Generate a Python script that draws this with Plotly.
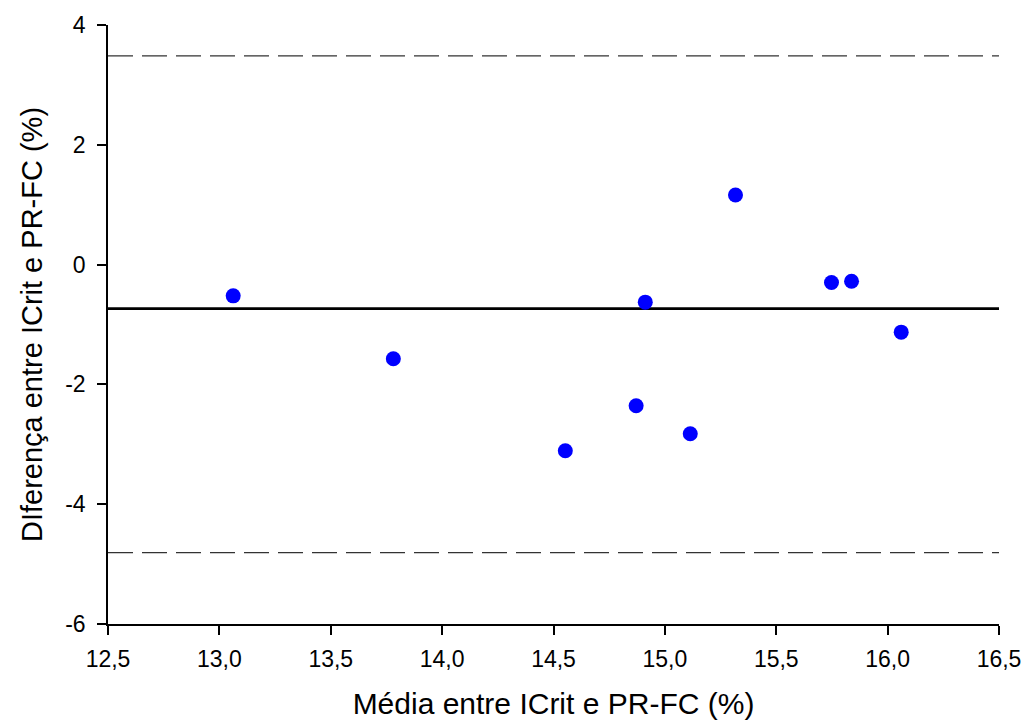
import plotly.graph_objects as go

# Data
media = [13.062, 13.781, 14.553, 14.871, 14.912, 15.114, 15.317, 15.748, 15.838, 16.061]
diferenca = [-0.522, -1.573, -3.108, -2.357, -0.627, -2.825, 1.163, -0.300, -0.277, -1.128]

bias = -0.734
lim_sup = 3.486
lim_inf = -4.81

x_range = [12.5, 16.5]
y_range = [-6, 4]

x_tickvals = [12.5, 13.0, 13.5, 14.0, 14.5, 15.0, 15.5, 16.0, 16.5]
x_ticktext = ["12,5", "13,0", "13,5", "14,0", "14,5", "15,0", "15,5", "16,0", "16,5"]
y_tickvals = [-6, -4, -2, 0, 2, 4]
y_ticktext = ["-6", "-4", "-2", "0", "2", "4"]

fig = go.Figure()

# limits of agreement (dashed)
for yv in [lim_sup, lim_inf]:
    fig.add_trace(go.Scatter(x=x_range, y=[yv, yv], mode="lines",
                             line=dict(color="#333333", width=1.2, dash="25px,9px"),
                             hoverinfo="skip", showlegend=False))
# mean difference
fig.add_trace(go.Scatter(x=x_range, y=[bias, bias], mode="lines",
                         line=dict(color="black", width=2.8),
                         hoverinfo="skip", showlegend=False))
# points
fig.add_trace(go.Scatter(x=media, y=diferenca, mode="markers",
                         marker=dict(color="#0000FF", size=15, line=dict(width=0)),
                         showlegend=False))

font_family = "Liberation Sans, Arial, Helvetica, sans-serif"

fig.update_layout(
    template="none",
    width=1026, height=725,
    margin=dict(l=108, r=27, t=25, b=101),
    paper_bgcolor="white", plot_bgcolor="white",
    font=dict(family=font_family, size=23, color="black"),
    xaxis=dict(range=x_range, tickvals=x_tickvals, ticktext=x_ticktext, automargin=False,
               showgrid=False, zeroline=False, showline=True, linecolor="black", linewidth=1.5,
               ticks="outside", ticklen=9, tickwidth=1.5, tickcolor="black",
               tickfont=dict(size=23), ticklabelstandoff=5,
               title=dict(text="Média entre ICrit e PR-FC (%)", font=dict(size=30), standoff=22)),
    yaxis=dict(range=y_range, tickvals=y_tickvals, ticktext=y_ticktext, automargin=False,
               showgrid=False, zeroline=False, showline=True, linecolor="black", linewidth=1.5,
               ticks="outside", ticklen=9, tickwidth=1.5, tickcolor="black",
               tickfont=dict(size=23), ticklabelstandoff=7,
               title=dict(text="DIferença entre ICrit e PR-FC (%)", font=dict(size=29), standoff=14)),
)

fig.write_html("out.html")
